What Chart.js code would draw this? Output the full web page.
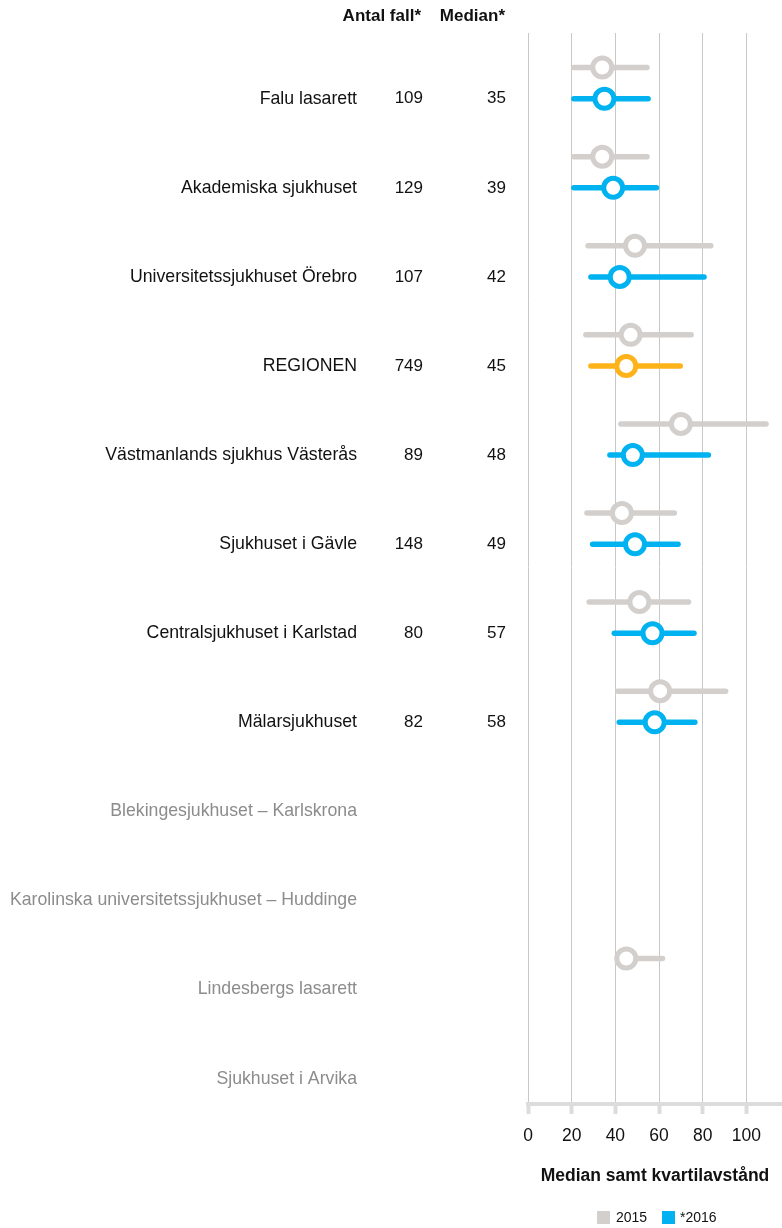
<!DOCTYPE html>
<html>
<head>
<meta charset="utf-8">
<script src="https://cdn.jsdelivr.net/npm/chart.js@4.4.1/dist/chart.umd.min.js"></script>
<style>
  html, body { margin: 0; padding: 0; background: #fff; overflow: hidden; }
  #wrap { width: 782px; height: 1228px; position: relative; }
  canvas { display: block; }
</style>
</head>
<body>
<div id="wrap"><canvas id="graf"></canvas></div>
<script>
// Sjukhus (rader uppifrån och ned)
const sjukhus = [
    'Falu lasarett',
    'Akademiska sjukhuset',
    'Universitetssjukhuset Örebro',
    'REGIONEN',
    'Västmanlands sjukhus Västerås',
    'Sjukhuset i Gävle',
    'Centralsjukhuset i Karlstad',
    'Mälarsjukhuset',
    'Blekingesjukhuset – Karlskrona',
    'Karolinska universitetssjukhuset – Huddinge',
    'Lindesbergs lasarett',
    'Sjukhuset i Arvika'
];
const antalFall = ['109', '129', '107', '749', '89', '148', '80', '82', '', '', '', ''];
const medianText = ['35', '39', '42', '45', '48', '49', '57', '58', '', '', '', ''];

// 2015: kvartil 1, median, kvartil 3
const q1_2015 = [21, 21, 27.5, 26.5, 42.5, 27, 28, 41, null, null, 44, null];
const med_2015 = [34, 34, 49, 47, 70, 43, 51, 60.5, null, null, 45, null];
const q3_2015 = [54.5, 54.5, 83.7, 74.7, 109, 67, 73.5, 90.5, null, null, 61.6, null];

// 2016
const q1_2016 = [21, 21, 28.8, 28.8, 37.5, 29.6, 39.5, 41.8, null, null, null, null];
const med_2016 = [35, 39, 42, 45, 48, 49, 57, 58, null, null, null, null];
const q3_2016 = [55, 58.8, 80.6, 69.7, 82.6, 68.7, 76, 76.4, null, null, null, null];

const grå = '#d3cfcc';
const blå = '#00b3f0';
const orange = '#ffb31a';
const typsnitt = '"Liberation Sans", Arial, sans-serif';
const forskjut2015 = 0.35; // 2015 ligger en bit ovanför 2016

function linjeData(q1, q3, forskj) {
    const d = [];
    for (let i = 0; i < q1.length; i++) {
        if (q1[i] === null) continue;
        d.push({ x: q1[i], y: i - forskj, rad: i });
        d.push({ x: q3[i], y: i - forskj, rad: i });
        d.push({ x: null, y: null, rad: i });
    }
    return d;
}

function punktData(med, forskj) {
    const d = [];
    for (let i = 0; i < med.length; i++) {
        if (med[i] === null) continue;
        d.push({ x: med[i], y: i - forskj, rad: i });
    }
    return d;
}

const linje2015 = linjeData(q1_2015, q3_2015, forskjut2015);
const linje2016 = linjeData(q1_2016, q3_2016, 0);
const punkt2015 = punktData(med_2015, forskjut2015);
const punkt2016 = punktData(med_2016, 0);

function färg2016(rad) {
    return sjukhus[rad] === 'REGIONEN' ? orange : blå;
}

// Texter till vänster, rubriker och förklaring
const textPlugin = {
    id: 'texter',
    afterDraw(chart) {
        const ctx = chart.ctx;
        const y = chart.scales.y;
        ctx.save();
        ctx.textBaseline = 'middle';
        ctx.textAlign = 'right';

        ctx.font = 'bold 17px ' + typsnitt;
        ctx.fillStyle = '#111';
        ctx.fillText('Antal fall*', 421, 16);
        ctx.fillText('Median*', 505, 16);

        for (let i = 0; i < sjukhus.length; i++) {
            const py = y.getPixelForValue(i);
            ctx.font = '17.7px ' + typsnitt;
            ctx.fillStyle = antalFall[i] ? '#111' : '#8c8c8c';
            ctx.fillText(sjukhus[i], 357, py);
            ctx.font = '17px ' + typsnitt;
            ctx.fillStyle = '#111';
            ctx.fillText(antalFall[i], 423, py);
            ctx.fillText(medianText[i], 506, py);
        }

        // förklaring
        ctx.textAlign = 'left';
        ctx.font = '14px ' + typsnitt;
        ctx.fillStyle = grå;
        ctx.fillRect(597, 1211, 13, 13);
        ctx.fillStyle = blå;
        ctx.fillRect(662, 1211, 13, 13);
        ctx.fillStyle = '#111';
        ctx.fillText('2015', 616, 1218);
        ctx.fillText('*2016', 680, 1218);
        ctx.restore();
    }
};

new Chart(document.getElementById('graf'), {
    type: 'line',
    data: {
        datasets: [
            {
                data: punkt2016,
                showLine: false,
                pointRadius: 9.5,
                pointBorderWidth: 5,
                pointBackgroundColor: '#fff',
                pointBorderColor: punkt2016.map(p => färg2016(p.rad)),
                order: 0
            },
            {
                data: punkt2015,
                showLine: false,
                pointRadius: 9.5,
                pointBorderWidth: 5,
                pointBackgroundColor: '#fff',
                pointBorderColor: grå,
                order: 1
            },
            {
                data: linje2016,
                borderWidth: 5.5,
                borderCapStyle: 'round',
                borderColor: blå,
                segment: {
                    borderColor: c => färg2016(linje2016[c.p0DataIndex].rad)
                },
                pointRadius: 0,
                spanGaps: false,
                order: 2
            },
            {
                data: linje2015,
                borderWidth: 5.5,
                borderCapStyle: 'round',
                borderColor: grå,
                pointRadius: 0,
                spanGaps: false,
                order: 3
            }
        ]
    },
    options: {
        responsive: true,
        maintainAspectRatio: false,
        animation: false,
        events: [],
        layout: { autoPadding: false, padding: { left: 528, right: 0, top: 33, bottom: 37 } },
        plugins: {
            legend: { display: false },
            tooltip: { enabled: false }
        },
        scales: {
            x: {
                type: 'linear',
                min: 0,
                max: 116.3,
                ticks: {
                    stepSize: 20,
                    includeBounds: false,
                    color: '#111',
                    font: { family: typsnitt, size: 17.5 },
                    padding: 12
                },
                grid: {
                    color: '#c8c8c8',
                    lineWidth: 1,
                    tickColor: '#dcdcdc',
                    tickWidth: 4,
                    tickLength: 10
                },
                border: { color: '#dcdcdc', width: 4 },
                title: {
                    display: true,
                    text: 'Median samt kvartilavstånd',
                    color: '#111',
                    font: { family: typsnitt, size: 17.5, weight: 'bold' },
                    padding: { top: 7, bottom: 4 }
                }
            },
            y: {
                type: 'linear',
                display: false,
                reverse: true,
                min: -0.738,
                max: 11.284
            }
        }
    },
    plugins: [textPlugin]
});
</script>
</body>
</html>
